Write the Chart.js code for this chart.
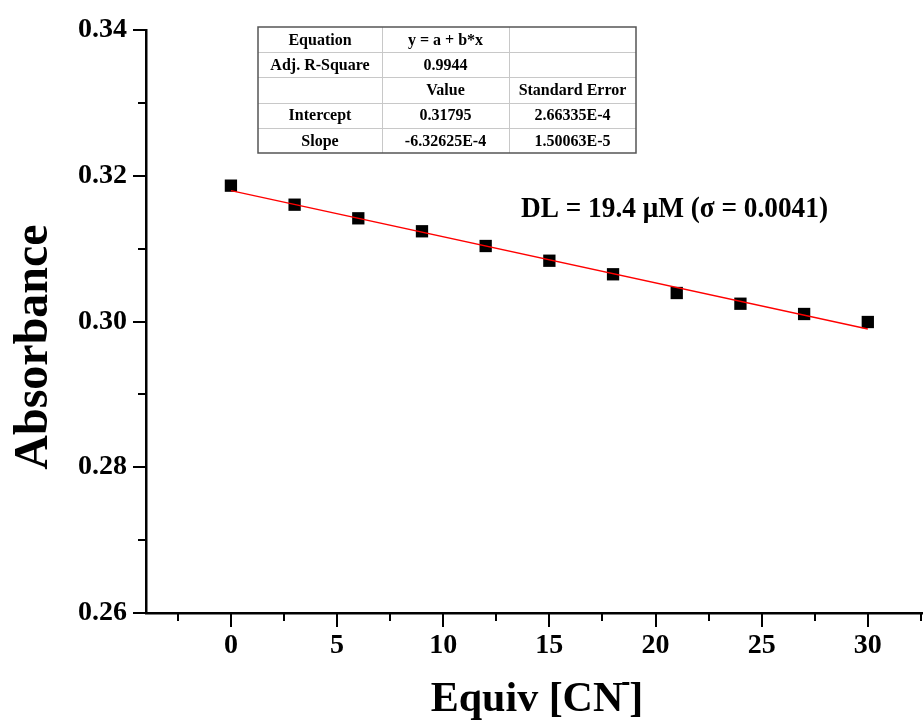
<!DOCTYPE html>
<html>
<head>
<meta charset="utf-8">
<script src="https://cdn.jsdelivr.net/npm/chart.js@4/dist/chart.umd.min.js"></script>
<style>
  html, body { margin: 0; padding: 0; background: #fff; overflow: hidden; }
  canvas { display: block; }
</style>
</head>
<body>
<canvas id="c" width="923" height="727"></canvas>
<script>
// Absorbance vs. added cyanide equivalents
const equiv = [0, 3, 6, 9, 12, 15, 18, 21, 24, 27, 30];
const absorbance = [0.31864, 0.31603, 0.31416, 0.31238, 0.31036, 0.30834,
                    0.30648, 0.30391, 0.30244, 0.30103, 0.29993];

// Linear fit y = a + b*x
const intercept = 0.31795;
const slope = -6.32625e-4;
const fitRange = [0, 30];

// Axis ticks
const xMajorTicks = [0, 5, 10, 15, 20, 25, 30];
const xMinorTicks = [-2.5, 2.5, 7.5, 12.5, 17.5, 22.5, 27.5, 32.5];
const yMajorTicks = [0.26, 0.28, 0.30, 0.32, 0.34];
const yTickLabels = ['0.26', '0.28', '0.30', '0.32', '0.34'];
const yMinorTicks = [0.27, 0.29, 0.31, 0.33];

// Fit summary table
const tableRows = [
  ['Equation', 'y = a + b*x', ''],
  ['Adj. R-Square', '0.9944', ''],
  ['', 'Value', 'Standard Error'],
  ['Intercept', '0.31795', '2.66335E-4'],
  ['Slope', '-6.32625E-4', '1.50063E-5']
];
const dlText = 'DL = 19.4 \u03BCM (\u03C3 = 0.0041)';

const SERIF = '"Liberation Serif", "Times New Roman", serif';

const fitPoints = fitRange.map(x => ({ x: x, y: intercept + slope * x }));
const dataPoints = equiv.map((x, i) => ({ x: x, y: absorbance[i] }));

const decorations = {
  id: 'decorations',
  afterDraw(chart) {
    const ctx = chart.ctx;
    const xs = chart.scales.x, ys = chart.scales.y;
    const area = chart.chartArea;
    ctx.save();

    // tick marks, pointing outward
    ctx.strokeStyle = '#000';
    ctx.lineWidth = 2;
    ctx.beginPath();
    yMajorTicks.forEach(v => {
      const p = Math.round(ys.getPixelForValue(v));
      ctx.moveTo(area.left - 13, p); ctx.lineTo(area.left, p);
    });
    yMinorTicks.forEach(v => {
      const p = Math.round(ys.getPixelForValue(v));
      ctx.moveTo(area.left - 8, p); ctx.lineTo(area.left, p);
    });
    xMajorTicks.forEach(v => {
      const p = Math.round(xs.getPixelForValue(v));
      ctx.moveTo(p, area.bottom); ctx.lineTo(p, area.bottom + 14);
    });
    xMinorTicks.forEach(v => {
      const p = Math.round(xs.getPixelForValue(v));
      ctx.moveTo(p, area.bottom); ctx.lineTo(p, area.bottom + 8);
    });
    ctx.stroke();

    // axis titles
    ctx.fillStyle = '#000';
    ctx.font = 'bold 48px ' + SERIF;
    ctx.textAlign = 'center';
    ctx.textBaseline = 'alphabetic';
    ctx.save();
    ctx.translate(47, 347);
    ctx.rotate(-Math.PI / 2);
    ctx.fillText('Absorbance', 0, 0);
    ctx.restore();

    ctx.textAlign = 'left';
    const partA = 'Equiv [CN';
    const partB = ']';
    ctx.font = 'bold 42px ' + SERIF;
    const wA = ctx.measureText(partA).width;
    const wB = ctx.measureText(partB).width;
    const wSup = 8;
    const total = wA + wSup + wB;
    const x0 = 538 - total / 2;
    const base = 711;
    ctx.fillText(partA, x0, base);
    ctx.fillText(partB, x0 + wA + wSup - 2, base);
    ctx.fillRect(x0 + wA - 1, base - 29, 7, 3);

    // detection limit note
    ctx.font = 'bold 29px ' + SERIF;
    ctx.fillText(dlText, 521, 217, 307);

    // fit summary table
    const tx = [258, 382, 509, 636];
    const ty0 = 27, rh = 25.2;
    ctx.strokeStyle = '#c8c8c8';
    ctx.lineWidth = 1;
    ctx.beginPath();
    for (let r = 1; r < tableRows.length; r++) {
      const y = Math.round(ty0 + r * rh) + 0.5;
      ctx.moveTo(tx[0], y); ctx.lineTo(tx[3], y);
    }
    [tx[1], tx[2]].forEach(x => { ctx.moveTo(x + 0.5, ty0); ctx.lineTo(x + 0.5, ty0 + 5 * rh); });
    ctx.stroke();
    ctx.strokeStyle = '#555';
    ctx.lineWidth = 1.5;
    ctx.strokeRect(tx[0], ty0, tx[3] - tx[0], 5 * rh);

    ctx.font = 'bold 16px ' + SERIF;
    ctx.textAlign = 'center';
    ctx.textBaseline = 'middle';
    tableRows.forEach((row, r) => {
      row.forEach((txt, c) => {
        if (!txt) return;
        ctx.fillText(txt, (tx[c] + tx[c + 1]) / 2, ty0 + (r + 0.5) * rh + 1);
      });
    });
    ctx.restore();
  }
};

new Chart(document.getElementById('c'), {
  type: 'scatter',
  data: {
    datasets: [
      {
        type: 'line',
        data: fitPoints,
        borderColor: '#ff0000',
        borderWidth: 1.3,
        pointRadius: 0,
        fill: false,
        order: 0
      },
      {
        data: dataPoints,
        pointStyle: 'rect',
        pointRadius: 8.7,
        pointHoverRadius: 8.7,
        backgroundColor: '#000',
        borderWidth: 0,
        order: 1
      }
    ]
  },
  plugins: [decorations],
  options: {
    responsive: false,
    animation: false,
    devicePixelRatio: 1,
    layout: { autoPadding: false, padding: { top: 30, right: 0, bottom: 0, left: 0 } },
    plugins: { legend: { display: false }, tooltip: { enabled: false } },
    scales: {
      x: {
        type: 'linear',
        min: -4,
        max: 32.6,
        afterBuildTicks(scale) {
          scale.ticks = xMajorTicks.concat(xMinorTicks).sort((a, b) => a - b).map(v => ({ value: v }));
        },
        afterFit(scale) {
          scale.height = 114;
          scale.paddingLeft = 0;
          scale.paddingRight = 0;
        },
        grid: { drawOnChartArea: false, drawTicks: true, tickLength: 16, color: 'rgba(0,0,0,0)' },
        border: { display: true, color: '#000', width: 2.5 },
        ticks: {
          autoSkip: false,
          maxRotation: 0,
          padding: 0,
          color: '#000',
          font: { family: SERIF, size: 28, weight: 'bold' },
          callback: v => (xMajorTicks.includes(v) ? String(v) : '')
        }
      },
      y: {
        type: 'linear',
        min: 0.26,
        max: 0.34,
        afterBuildTicks(scale) {
          scale.ticks = yMajorTicks.map(v => ({ value: v }));
        },
        afterFit(scale) { scale.width = 146; },
        grid: { drawOnChartArea: false, drawTicks: true, tickLength: 19, color: 'rgba(0,0,0,0)' },
        border: { display: true, color: '#000', width: 2.5 },
        ticks: {
          autoSkip: false,
          padding: 0,
          color: '#000',
          font: { family: SERIF, size: 28, weight: 'bold' },
          callback: (v, i) => yTickLabels[i]
        }
      }
    }
  }
});
</script>
</body>
</html>
